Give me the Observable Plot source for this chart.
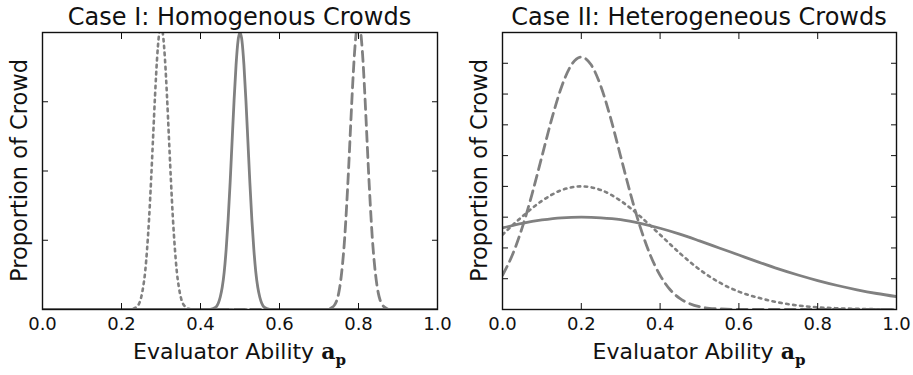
<!DOCTYPE html>
<html><head><meta charset="utf-8">
<script src="https://cdn.jsdelivr.net/npm/d3@7"></script>
<script src="https://cdn.jsdelivr.net/npm/@observablehq/plot@0.6"></script>
<style>
body{margin:0;background:#fff;}
#wrap{display:flex;width:913px;height:375px;}
svg{display:block;}
</style></head><body><div id="wrap"></div>
<script>
// ---- tick values ----
const xTicks = [0, 0.2, 0.4, 0.6, 0.8, 1.0];
const yTicksCaseI = [1, 2, 3];
const yTicksCaseII = [1, 2, 3, 4, 5, 6, 7, 8];
const titles = ["Case I: Homogenous Crowds", "Case II: Heterogeneous Crowds"];

// ---- Case I (in y-tick units) ----
const c1SolidX = [0, 0.42, 0.43, 0.44, 0.445, 0.45, 0.455, 0.46, 0.465, 0.47, 0.475, 0.48, 0.485, 0.49, 0.495, 0.5, 0.505, 0.51, 0.515, 0.52, 0.525, 0.53, 0.535, 0.54, 0.545, 0.55, 0.555, 0.56, 0.57, 0.58, 1.0];
const c1SolidY = [0, 0, 0.01, 0.04, 0.09, 0.18, 0.32, 0.54, 0.87, 1.30, 1.83, 2.43, 3.02, 3.53, 3.88, 4.0, 3.88, 3.53, 3.02, 2.43, 1.83, 1.30, 0.87, 0.54, 0.32, 0.18, 0.09, 0.04, 0.01, 0, 0];

const c1DotX = [0, 0.22, 0.23, 0.24, 0.245, 0.25, 0.255, 0.26, 0.265, 0.27, 0.275, 0.28, 0.285, 0.29, 0.295, 0.3, 0.305, 0.31, 0.315, 0.32, 0.325, 0.33, 0.335, 0.34, 0.345, 0.35, 0.355, 0.36, 0.37, 0.38, 1.0];
const c1DotY = [0, 0, 0.01, 0.05, 0.09, 0.18, 0.33, 0.55, 0.89, 1.33, 1.88, 2.49, 3.10, 3.62, 3.97, 4.1, 3.97, 3.62, 3.10, 2.49, 1.88, 1.33, 0.89, 0.55, 0.33, 0.18, 0.09, 0.05, 0.01, 0, 0];

const c1DashX = [0, 0.72, 0.73, 0.74, 0.745, 0.75, 0.755, 0.76, 0.765, 0.77, 0.775, 0.78, 0.785, 0.79, 0.795, 0.8, 0.805, 0.81, 0.815, 0.82, 0.825, 0.83, 0.835, 0.84, 0.845, 0.85, 0.855, 0.86, 0.87, 0.88, 1.0];
const c1DashY = [0, 0, 0.02, 0.07, 0.13, 0.24, 0.42, 0.68, 1.03, 1.50, 2.04, 2.64, 3.22, 3.71, 4.03, 4.15, 4.03, 3.71, 3.22, 2.64, 2.04, 1.50, 1.03, 0.68, 0.42, 0.24, 0.13, 0.07, 0.02, 0, 0];

// ---- Case II ----
const c2X = [0, 0.05, 0.1, 0.15, 0.2, 0.25, 0.3, 0.35, 0.4, 0.45, 0.5, 0.55, 0.6, 0.65, 0.7, 0.75, 0.8, 0.85, 0.9, 0.95, 1.0];
const c2SolidY = [2.65, 2.80, 2.91, 2.98, 3.0, 2.98, 2.92, 2.80, 2.64, 2.45, 2.23, 2.0, 1.77, 1.54, 1.32, 1.12, 0.94, 0.78, 0.64, 0.52, 0.42];
const c2DotY = [2.43, 3.02, 3.53, 3.88, 4.0, 3.88, 3.53, 3.02, 2.43, 1.83, 1.30, 0.88, 0.58, 0.38, 0.23, 0.13, 0.07, 0.04, 0.02, 0.01, 0];
const c2DashX = [0, 0.025, 0.05, 0.075, 0.1, 0.125, 0.15, 0.175, 0.2, 0.225, 0.25, 0.275, 0.3, 0.325, 0.35, 0.375, 0.4, 0.425, 0.45, 0.475, 0.5, 0.525, 0.55, 0.6, 0.7, 0.8, 0.9, 1.0];
const c2DashY = [1.11, 1.77, 2.66, 3.75, 4.97, 6.19, 7.24, 7.95, 8.2, 7.95, 7.24, 6.19, 4.97, 3.75, 2.66, 1.77, 1.11, 0.65, 0.36, 0.19, 0.09, 0.04, 0.02, 0, 0, 0, 0, 0];

const LINE = "#808080";
const INK = "#111";
const rows = (xs, ys) => xs.map((x, i) => ({x, y: ys[i]}));

function panel({title, width, marginLeft, marginRight, yMax, yTicks, series}) {
  const lineMarks = series.map(s => Plot.line(rows(s.x, s.y), {
    x: "x", y: "y", stroke: LINE, strokeWidth: s.w, strokeDasharray: s.dash,
    curve: "monotone-x", clip: true
  }));
  const svg = Plot.plot({
    width, height: 375,
    marginLeft, marginRight, marginTop: 32, marginBottom: 66,
    style: {fontFamily: "DejaVu Sans", background: "white", color: INK, overflow: "visible"},
    x: {domain: [0, 1]},
    y: {domain: [0, yMax]},
    marks: [
      ...lineMarks,
      Plot.axisX(xTicks, {anchor: "bottom", tickSize: -6, tickPadding: 14, tickFormat: d3.format(".1f"), fontSize: 18, label: null, stroke: INK, fill: INK}),
      Plot.axisX(xTicks, {anchor: "top", tickSize: -6, fill: "none", label: null, stroke: INK}),
      Plot.axisY(yTicks, {anchor: "left", tickSize: -6, fill: "none", label: null, stroke: INK}),
      Plot.axisY(yTicks, {anchor: "right", tickSize: -6, fill: "none", label: null, stroke: INK}),
      Plot.frame({stroke: INK, strokeWidth: 1.4})
    ]
  });
  const cx = (marginLeft + width - marginRight) / 2;
  const cy = (32 + 375 - 66) / 2;
  const s = d3.select(svg);
  s.append("text").attr("x", cx).attr("y", 25).attr("text-anchor", "middle")
    .attr("font-size", 24).attr("fill", INK).text(title);
  const xl = s.append("text").attr("x", cx).attr("y", 359).attr("text-anchor", "middle")
    .attr("font-size", 22).attr("fill", INK);
  xl.append("tspan").text("Evaluator Ability ");
  xl.append("tspan").attr("font-family", "DejaVu Serif").attr("font-weight", "bold").text("a");
  xl.append("tspan").attr("font-family", "DejaVu Serif").attr("font-weight", "bold")
    .attr("font-size", 15).attr("dy", 6).text("p");
  s.append("text").attr("transform", `translate(27,${cy}) rotate(-90)`)
    .attr("text-anchor", "middle").attr("font-size", 22.5).attr("fill", INK).text("Proportion of Crowd");
  return svg;
}

const wrap = document.getElementById("wrap");
wrap.append(panel({
  title: titles[0], width: 460, marginLeft: 42, marginRight: 23, yMax: 4, yTicks: yTicksCaseI,
  series: [
    {x: c1DotX, y: c1DotY, dash: "2.5,4.5", w: 2.6},
    {x: c1SolidX, y: c1SolidY, dash: null, w: 2.8},
    {x: c1DashX, y: c1DashY, dash: "10,6", w: 2.8}
  ]
}));
wrap.append(panel({
  title: titles[1], width: 453, marginLeft: 42, marginRight: 17, yMax: 9, yTicks: yTicksCaseII,
  series: [
    {x: c2X, y: c2DotY, dash: "2.5,4.5", w: 2.6},
    {x: c2X, y: c2SolidY, dash: null, w: 2.8},
    {x: c2DashX, y: c2DashY, dash: "10,6", w: 2.8}
  ]
}));
</script></body></html>
